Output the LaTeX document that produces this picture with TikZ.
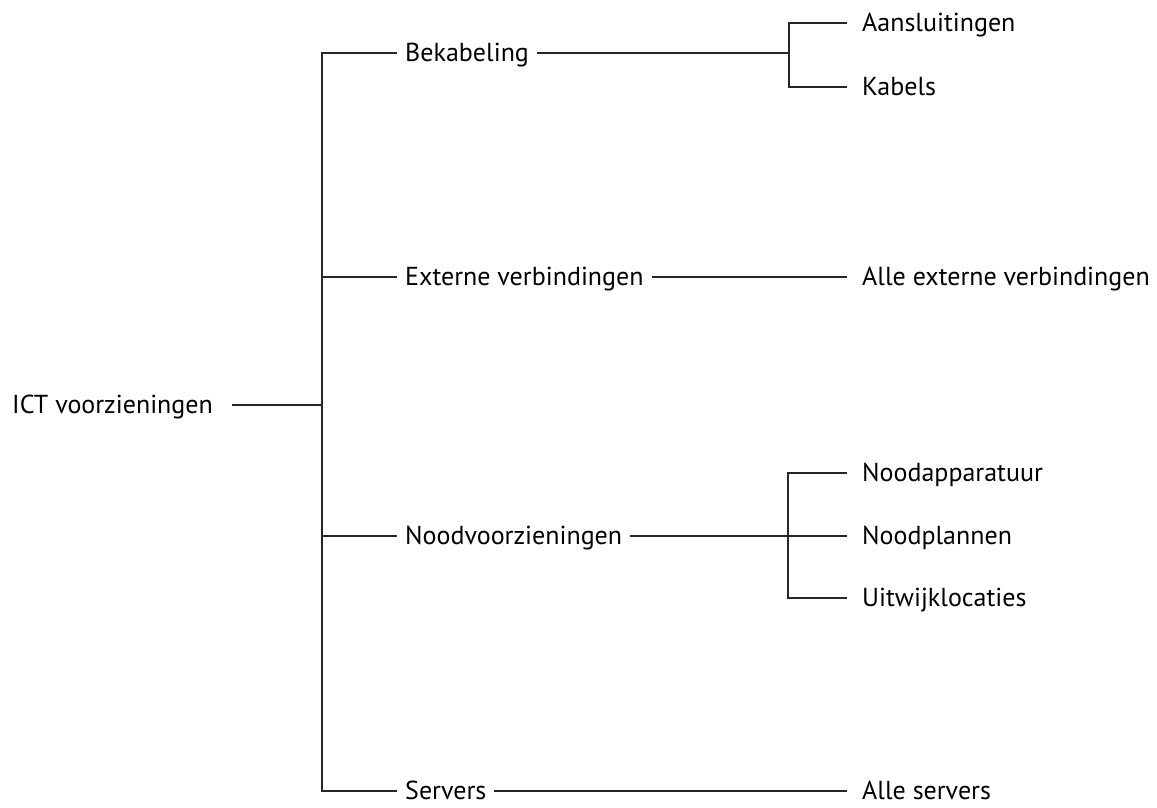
\documentclass[tikz,border=0pt]{standalone}
\usepackage{fontspec}
\setmainfont{PT Sans}
\begin{document}
\begin{tikzpicture}[x=1pt,y=-1pt,
  lbl/.style={font=\fontsize{26}{30}\selectfont, inner ysep=0pt,
    text height=17.6pt, text depth=0pt, anchor=west},
  rootlbl/.style={lbl, inner xsep=19pt},
  midlbl/.style={lbl, inner xsep=8pt},
  leaflbl/.style={lbl, inner xsep=15pt},
  link/.style={draw=black!85, line width=1.3pt}]
\useasboundingbox (0,0) rectangle (1157,807);

% root
\node[rootlbl] (root) at (-7,405) {ICT voorzieningen};

% trunk junctions
\coordinate (t0) at (322,405);
\coordinate (j1) at (322,53);
\coordinate (j2) at (322,277);
\coordinate (j3) at (322,536);
\coordinate (j4) at (322,791);

% first level
\node[midlbl] (bek)  at (397,53)  {Bekabeling};
\node[midlbl] (ext)  at (397,277) {Externe verbindingen};
\node[midlbl] (nood) at (397,536) {Noodvoorzieningen};
\node[midlbl] (serv) at (397,791) {Servers};

% second level
\coordinate (b0) at (789,53);
\coordinate (b1) at (789,23);
\coordinate (b2) at (789,87);
\node[leaflbl] (aans) at (847,23) {Aansluitingen};
\node[leaflbl] (kab)  at (847,87) {Kabels};

\node[leaflbl] (allext) at (847,277) {Alle externe verbindingen};

\coordinate (n0) at (788,536);
\coordinate (n1) at (788,473);
\coordinate (n3) at (788,598);
\node[leaflbl] (napp)  at (847,473) {Noodapparatuur};
\node[leaflbl] (nplan) at (847,536) {Noodplannen};
\node[leaflbl] (uitw)  at (847,598) {Uitwijklocaties};

\node[leaflbl] (allserv) at (847,791) {Alle servers};

% connectors
\draw[link] (root.east) -- (t0);
\draw[link] (j2) -- (ext.west);
\draw[link] (j3) -- (nood.west);
\draw[link] (bek.west) -- (j1) -- (j4) -- (serv.west);

\draw[link] (bek.east) -- (b0);
\draw[link] (aans.west) -- (b1) -- (b2) -- (kab.west);

\draw[link] (ext.east) -- (allext.west);

\draw[link] (nood.east) -- (nplan.west);
\draw[link] (napp.west) -- (n1) -- (n3) -- (uitw.west);

\draw[link] (serv.east) -- (allserv.west);
\end{tikzpicture}
\end{document}
